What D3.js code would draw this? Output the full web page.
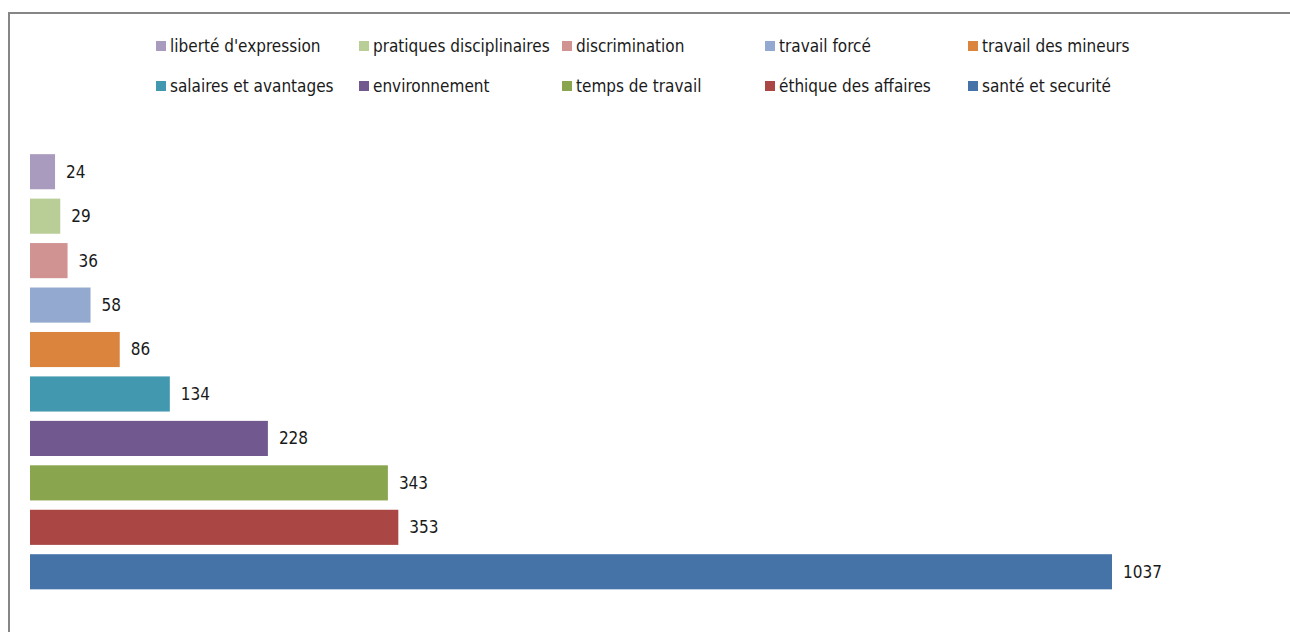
<!DOCTYPE html>
<html>
<head>
<meta charset="utf-8">
<script src="https://cdn.jsdelivr.net/npm/d3@7"></script>
<style>
  body { margin: 0; background: #fff; }
  text { font-family: "DejaVu Sans Condensed", "Liberation Sans Narrow", "Open Sans", sans-serif; fill: #1a1a1a; }
</style>
</head>
<body>
<script>
// categories, top bar first
const categories = ["liberté d'expression", "pratiques disciplinaires", "discrimination", "travail forcé",
  "travail des mineurs", "salaires et avantages", "environnement", "temps de travail",
  "éthique des affaires", "santé et securité"];
const values = [24, 29, 36, 58, 86, 134, 228, 343, 353, 1037];
const colors = ["#A99BBD", "#B9CD96", "#D19392", "#93A9CF", "#DB843D",
  "#4198AF", "#71588F", "#89A54E", "#AA4643", "#4572A7"];

const width = 1290, height = 632;

const svg = d3.select('body').append('svg')
  .attr('width', width)
  .attr('height', height);

svg.append('rect').attr('width', width).attr('height', height).attr('fill', '#fff');

// chart area frame (only left and top edges are visible)
svg.append('path')
  .attr('d', 'M9,' + height + 'V13H' + width)
  .attr('fill', 'none')
  .attr('stroke', '#868686')
  .attr('stroke-width', 2);

const x = d3.scaleLinear().domain([0, 1037]).range([30, 1112]);
const y = d3.scaleBand().domain(categories).range([149.5, 594]).paddingInner(0.21).paddingOuter(0.105);

const data = categories.map((c, i) => ({name: c, value: values[i], color: colors[i]}));

svg.append('g').selectAll('rect')
  .data(data)
  .enter()
  .append('rect')
  .attr('x', x(0))
  .attr('y', d => y(d.name))
  .attr('width', d => x(d.value) - x(0))
  .attr('height', y.bandwidth())
  .attr('fill', d => d.color);

svg.append('g').selectAll('text')
  .data(data)
  .enter()
  .append('text')
  .attr('x', d => x(d.value) + 11)
  .attr('y', d => y(d.name) + y.bandwidth() / 2)
  .attr('dy', '0.35em')
  .attr('font-size', '17px')
  .text(d => d.value);

// legend: 2 rows x 5 columns
const legend = svg.append('g');
data.forEach((d, i) => {
  const col = i % 5, row = Math.floor(i / 5);
  const g = legend.append('g')
    .attr('transform', 'translate(' + (156 + col * 203) + ',' + (46 + row * 40) + ')');
  g.append('rect').attr('x', 0).attr('y', -5).attr('width', 10).attr('height', 10).attr('fill', d.color);
  g.append('text').attr('x', 14).attr('dy', '0.35em').attr('font-size', '17px').text(d.name);
});
</script>
</body>
</html>
